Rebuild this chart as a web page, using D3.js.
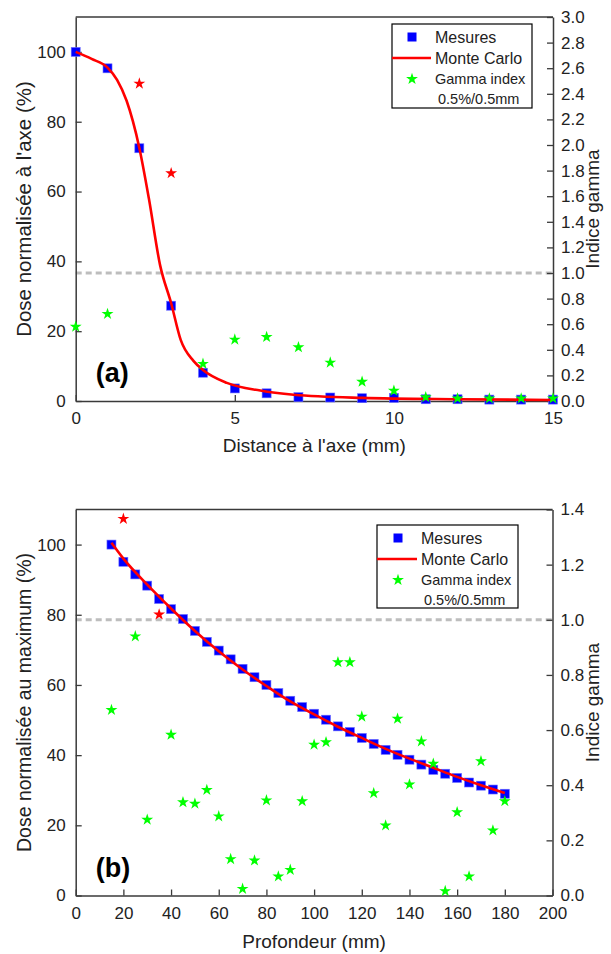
<!DOCTYPE html>
<html><head><meta charset="utf-8">
<script src="https://cdn.jsdelivr.net/npm/d3@7"></script>
<style>
body{margin:0;background:#fff;}
svg{display:block;font-family:Arial,"Liberation Sans",sans-serif;}
</style></head>
<body><svg id="c" width="611" height="954"></svg>
<script>
// ---- Data: panel (a) ----
const distA = [0,1,2,3,4,5,6,7,8,9,10,11,12,13,14,15];
const mesuresA = [100,95.3,72.4,27.3,8.1,3.6,2.2,1.1,1.0,0.8,0.9,0.5,0.5,0.4,0.4,0.4];
const gammaA = [0.58,0.68,2.48,1.78,0.29,0.48,0.50,0.42,0.30,0.15,0.08,0.03,0.02,0.02,0.02,0.02];
const mcDistA = [0,0.5,1,1.3,1.6,2.0,2.3,2.65,3.0,3.3,3.7,4.0,4.75,5.8,6.85,9,12,15];
const mcDoseA = [100,98,95.5,92,86,72.5,58,39,28,17.5,11.5,8.9,5.2,3.0,1.8,0.9,0.5,0.3];
const xTicksA = [0,5,10,15];
const yTicksLeft = [0,20,40,60,80,100];
const yTicksRightA = [0,0.2,0.4,0.6,0.8,1.0,1.2,1.4,1.6,1.8,2.0,2.2,2.4,2.6,2.8,3.0];

// ---- Data: panel (b) ----
const depthB = [15,20,25,30,35,40,45,50,55,60,65,70,75,80,85,90,95,100,105,110,115,120,125,130,135,140,145,150,155,160,165,170,175,180];
const mesuresB = [100,95.1,91.5,88.3,84.5,81.6,78.8,75.4,72.3,69.8,67.3,64.6,62.2,60.0,57.7,55.5,53.7,51.8,50.1,48.2,46.6,44.9,43.2,41.5,40.1,38.7,37.3,35.8,34.7,33.5,32.2,31.3,30.2,29.0];
const gammaB = [0.673,1.366,0.94,0.275,1.019,0.583,0.338,0.333,0.383,0.287,0.132,0.024,0.127,0.345,0.069,0.093,0.342,0.547,0.556,0.846,0.846,0.649,0.371,0.254,0.641,0.403,0.559,0.478,0.016,0.302,0.069,0.487,0.236,0.342];
const mcDepthB = [15,20,30,40,50,60,70,80,90,100,110,120,130,140,150,160,170,180];
const mcDoseB = [100.5,96,88.6,81.8,75.4,69.6,64.4,59.7,55.3,51.6,48.1,44.9,41.8,39.0,36.4,33.8,31.4,29.2];
const xTicksB = [0,20,40,60,80,100,120,140,160,180,200];
const yTicksRightB = [0,0.2,0.4,0.6,0.8,1.0,1.2,1.4];

const svg = d3.select("#c");
const FRAME = "#3a3a3a";
const BLUE = "#0000ff", RED = "#ff0000", GREEN = "#00ff00", GREY = "#bdbdbd";

function panel(cfg){
  const g = svg.append("g");
  const x = d3.scaleLinear().domain(cfg.xDomain).range([cfg.left, cfg.right]);
  const yL = d3.scaleLinear().domain([0,110]).range([cfg.bottom, cfg.top]);
  const yR = d3.scaleLinear().domain(cfg.yRDomain).range([cfg.bottom, cfg.top]);

  // frame top
  g.append("line").attr("x1",cfg.left).attr("x2",cfg.right).attr("y1",cfg.top).attr("y2",cfg.top)
    .attr("stroke",FRAME).attr("stroke-width",1.5);

  // gamma = 1 dotted line
  g.append("line").attr("x1",cfg.left).attr("x2",cfg.right).attr("y1",yR(1)).attr("y2",yR(1))
    .attr("stroke",GREY).attr("stroke-width",3).attr("stroke-dasharray","6,4");

  // axes
  const styleAxis = sel => {
    sel.select(".domain").attr("stroke",FRAME).attr("stroke-width",1.5);
    sel.selectAll(".tick line").attr("stroke",FRAME).attr("stroke-width",1.3);
    sel.selectAll(".tick text").attr("fill","#222").attr("font-size","17px").attr("font-family","Arial, 'Liberation Sans', sans-serif");
  };
  g.append("g").attr("transform",`translate(0,${cfg.bottom})`)
    .call(d3.axisBottom(x).tickValues(cfg.xTicks).tickSizeInner(-6).tickSizeOuter(0).tickPadding(11).tickFormat(d3.format("d")))
    .call(styleAxis);
  g.append("g").attr("transform",`translate(${cfg.left},0)`)
    .call(d3.axisLeft(yL).tickValues(yTicksLeft).tickSizeInner(-6).tickSizeOuter(0).tickPadding(10).tickFormat(d3.format("d")))
    .call(styleAxis);
  g.append("g").attr("transform",`translate(${cfg.right},0)`)
    .call(d3.axisRight(yR).tickValues(cfg.yRTicks).tickSizeInner(-6).tickSizeOuter(0).tickPadding(8).tickFormat(d3.format(".1f")))
    .call(styleAxis);

  // Monte Carlo line
  const line = d3.line().x(d=>x(d[0])).y(d=>yL(d[1])).curve(d3.curveMonotoneX);

  // Mesures squares
  g.selectAll("rect.m").data(cfg.mX.map((v,i)=>[v,cfg.mY[i]])).enter().append("rect")
    .attr("x",d=>x(d[0])-4.5).attr("y",d=>yL(d[1])-4.5).attr("width",9).attr("height",9)
    .attr("fill",BLUE).attr("stroke","#6b6bff").attr("stroke-width",0.6);
  g.append("path").datum(cfg.mcX.map((v,i)=>[v,cfg.mcY[i]]))
    .attr("d",line).attr("fill","none").attr("stroke",RED).attr("stroke-width",2.6);

  // Gamma stars
  const star = d3.symbol().type(d3.symbolStar).size(44);
  g.selectAll("path.s").data(cfg.mX.map((v,i)=>[v,cfg.gY[i]])).enter().append("path")
    .attr("d",star).attr("transform",d=>`translate(${x(d[0])},${yR(d[1])})`)
    .attr("fill",d=>d[1]>1?RED:GREEN);

  // axis titles
  g.append("text").attr("x",(cfg.left+cfg.right)/2).attr("y",cfg.xTitleY).attr("text-anchor","middle")
    .attr("font-size","19px").attr("fill","#222").text(cfg.xTitle);
  g.append("text").attr("transform",`translate(31,${(cfg.top+cfg.bottom)/2}) rotate(-90)`).attr("text-anchor","middle")
    .attr("font-size",cfg.yTitleSize).attr("fill","#222").text(cfg.yTitle);
  g.append("text").attr("transform",`translate(599,${(cfg.top+cfg.bottom)/2}) rotate(-90)`).attr("text-anchor","middle")
    .attr("font-size","19px").attr("fill","#222").text("Indice gamma");

  // panel label
  g.append("text").attr("x",cfg.left+20).attr("y",cfg.bottom-19).attr("font-size","27px").attr("font-weight","bold")
    .attr("fill","#000").text(cfg.label);

  // legend
  const L = cfg.legend;
  const lg = g.append("g").attr("transform",`translate(${L.x},${L.y})`);
  lg.append("rect").attr("x",0).attr("y",0).attr("width",L.w).attr("height",L.h).attr("fill","#fff").attr("stroke","#000").attr("stroke-width",1.2);
  lg.append("rect").attr("x",L.sym-4.5).attr("y",13-4.5).attr("width",9).attr("height",9).attr("fill",BLUE);
  lg.append("text").attr("x",L.tx).attr("y",19).attr("font-size","16px").attr("fill","#222").text("Mesures");
  lg.append("line").attr("x1",0).attr("x2",L.lineEnd).attr("y1",34).attr("y2",34).attr("stroke",RED).attr("stroke-width",2.6);
  lg.append("text").attr("x",L.tx).attr("y",40).attr("font-size","16px").attr("fill","#222").text("Monte Carlo");
  lg.append("path").attr("d",star).attr("transform",`translate(${L.sym},55)`).attr("fill",GREEN);
  lg.append("text").attr("x",L.tx).attr("y",60).attr("font-size","14.5px").attr("fill","#222").text("Gamma index");
  lg.append("text").attr("x",L.tx+3).attr("y",80).attr("font-size","14.5px").attr("fill","#222").text("0.5%/0.5mm");
}

panel({
  left:75.7, right:553, top:17, bottom:401,
  xDomain:[0,15], yRDomain:[0,3], xTicks:xTicksA, yRTicks:yTicksRightA,
  mX:distA, mY:mesuresA, gY:gammaA, mcX:mcDistA, mcY:mcDoseA,
  xTitle:"Distance à l'axe (mm)", yTitle:"Dose normalisée à l'axe (%)", yTitleSize:"20.5px", xTitleY:452, label:"(a)",
  legend:{x:392,y:24,w:140,h:84,sym:20,tx:43,lineEnd:39}
});
panel({
  left:75.7, right:552.5, top:509.5, bottom:895.5,
  xDomain:[0,200], yRDomain:[0,1.4], xTicks:xTicksB, yRTicks:yTicksRightB,
  mX:depthB, mY:mesuresB, gY:gammaB, mcX:mcDepthB, mcY:mcDoseB,
  xTitle:"Profondeur (mm)", yTitle:"Dose normalisée au maximum (%)", yTitleSize:"19.5px", xTitleY:948, label:"(b)",
  legend:{x:377,y:525,w:141,h:83,sym:21,tx:44,lineEnd:40}
});
</script></body></html>
